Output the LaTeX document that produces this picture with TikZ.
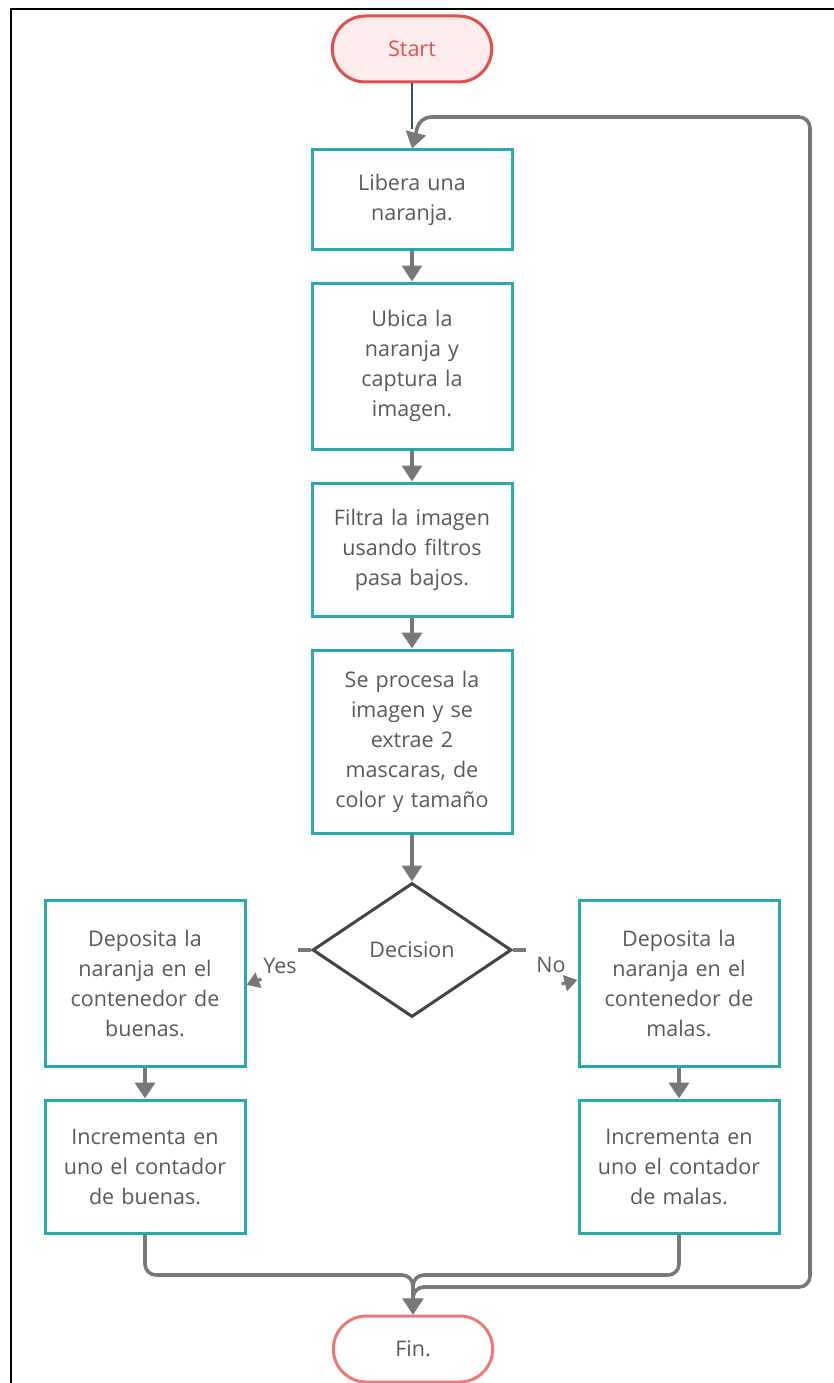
\documentclass[tikz,border=0pt]{standalone}
\usepackage{fontspec}
\setmainfont{Open Sans}
\usetikzlibrary{shapes.geometric,shapes.misc,arrows.meta}
\definecolor{teal1}{HTML}{2AA9A6}
\definecolor{txt}{HTML}{5A5A5A}
\definecolor{arr}{HTML}{787878}
\definecolor{startred}{HTML}{E0504E}
\definecolor{startfill}{HTML}{FDECEC}
\definecolor{finred}{HTML}{EF7777}
\definecolor{navy}{HTML}{3B4C7C}
\definecolor{decline}{HTML}{444444}
\tikzset{
  proc/.style={draw=teal1, line width=3pt, fill=white, minimum width=200pt, align=center,
    text=txt, font=\fontsize{21.5}{30}\selectfont, inner sep=0pt, text width=190pt},
  term/.style={rounded rectangle, draw, line width=3pt, minimum width=166pt, minimum height=66pt,
    font=\fontsize{21.5}{26}\selectfont},
  flow/.style={draw=arr, line width=3.6pt, -{Triangle[length=16pt,width=20pt]}, rounded corners=11pt},
  plain/.style={draw=arr, line width=3.6pt, rounded corners=11pt},
  lbl/.style={text=txt, font=\fontsize{21.5}{26}\selectfont},
}
\begin{document}
\begin{tikzpicture}[x=1pt,y=-1pt]
\useasboundingbox (0,0) rectangle (834,1383);
\draw[black, line width=2.5pt] (11,1383) -- (11,9) -- (834,9);

\node[term, draw=startred, fill=startfill, text=startred] (start) at (412,49) {Start};
\node[term, draw=finred, fill=white, text=txt] (fin) at (413,1349) {Fin.};

\node[proc, minimum height=99pt] (b1) at (412,199.5) {Libera una\\naranja.};
\node[proc, minimum height=166pt] (b2) at (412,366) {Ubica la\\naranja y\\captura la\\imagen.};
\node[proc, minimum height=133pt] (b3) at (412,549.5) {Filtra la imagen\\usando filtros\\pasa bajos.};
\node[proc, minimum height=183pt] (b4) at (412,741.5) {Se procesa la\\imagen y se\\extrae 2\\mascaras, de\\color y tamaño};

\node[diamond, draw=decline, line width=3pt, minimum width=199pt, minimum height=134pt, aspect=1.49,
  inner sep=0pt, lbl] (dec) at (412,950) {Decision};

\node[proc, minimum height=166pt] (la) at (145,983) {Deposita la\\naranja en el\\contenedor de\\buenas.};
\node[proc, minimum height=133pt] (lb) at (145,1166.5) {Incrementa en\\uno el contador\\de buenas.};
\node[proc, minimum height=166pt] (ra) at (679,983) {Deposita la\\naranja en el\\contenedor de\\malas.};
\node[proc, minimum height=133pt] (rb) at (679,1166.5) {Incrementa en\\uno el contador\\de malas.};

\coordinate (loopR) at (810,700);

% start to first box
\draw[navy, line width=2.8pt] (start.south) -- ++(0,46);
\draw[flow] (loopR) |- (420,117) -- (b1.north);
\draw[flow] (b1.south) -- (b2.north);
\draw[flow] (b2.south) -- (b3.north);
\draw[flow] (b3.south) -- (b4.north);
\draw[flow] (b4.south) -- (dec.north);

% decision branches (broken connectors)
\draw[plain] (dec.west) -- ++(-13,0);
\draw[plain] (dec.east) -- ++(13,0);
\draw[draw=arr, line width=3pt, -{Triangle[length=13pt,width=16pt]}] ([xshift=15pt,yshift=4pt]la.east) -- ([yshift=-2pt]la.east);
\draw[draw=arr, line width=3pt, -{Triangle[length=13pt,width=16pt]}] ([xshift=-16pt,yshift=-1pt]ra.west) -- ([yshift=3pt]ra.west);
\node[lbl] (yes) at (280,966) {Yes};
\node[lbl] (no) at (551,965) {No};

\draw[flow] (la.south) -- (lb.north);
\draw[flow] (ra.south) -- (rb.north);

% merges to Fin
\draw[flow] (lb.south) -- (145,1275) -- (413,1275) -- (fin.north);
\draw[flow] (rb.south) -- (679,1275) -- (413,1275) -- (fin.north);
\draw[flow] (loopR) -- (810,1287) -- (413,1287) -- (fin.north);
\end{tikzpicture}
\end{document}
